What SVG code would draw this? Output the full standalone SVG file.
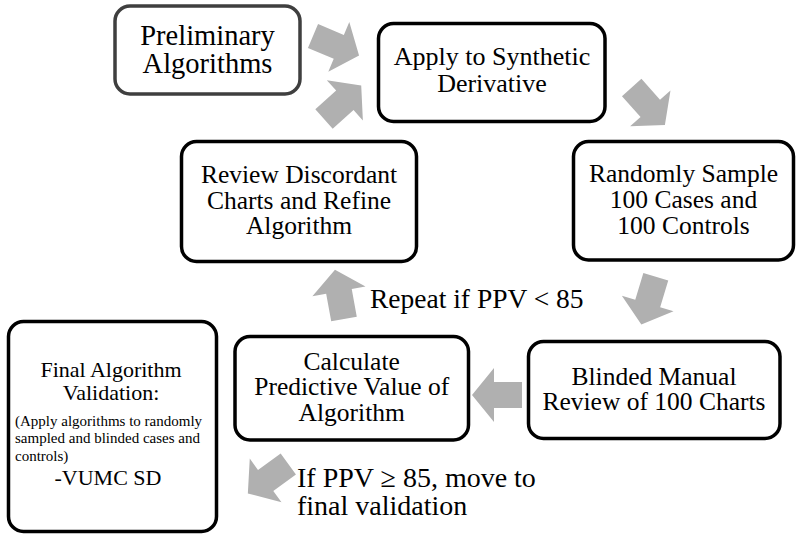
<svg xmlns="http://www.w3.org/2000/svg" xmlns:xlink="http://www.w3.org/1999/xlink" width="800" height="538" viewBox="0 0 800 538" font-family="Liberation Serif, Times New Roman, DejaVu Serif, serif">
<style>
  .box { fill: #ffffff; stroke: #000000; stroke-width: 3.5; }
  .box0 { fill: #ffffff; stroke: #3f3f3f; stroke-width: 3.5; }
  .t { text-anchor: middle; }
  .arr { fill: #b0b0b0; }
</style>
<defs>
  <polygon id="arrow" points="0,-13 28,-13 28,-27 50,0 28,27 28,13 0,13"/>
</defs>
<rect width="800" height="538" fill="#ffffff"/>

<g id="connectors" class="arr">
  <use xlink:href="#arrow" transform="translate(313,36) rotate(22.9)"/>
  <use xlink:href="#arrow" transform="translate(324,119) rotate(-41.9)"/>
  <use xlink:href="#arrow" transform="translate(631.7,87.5) rotate(48.4)"/>
  <use xlink:href="#arrow" transform="translate(655.8,276.7) rotate(106.8)"/>
  <use xlink:href="#arrow" transform="translate(522,395) rotate(180)"/>
  <use xlink:href="#arrow" transform="translate(288.3,464) rotate(144)"/>
  <use xlink:href="#arrow" transform="translate(344,319) rotate(-100.4)"/>
</g>

<g id="labels" fill="#000000">
  <text x="370" y="308" font-size="27.5">Repeat if PPV &lt; 85</text>
  <text x="297" y="487" font-size="28">If PPV ≥ 85, move to</text>
  <text x="297" y="515" font-size="28">final validation</text>
</g>

<g id="node-preliminary">
  <rect class="box0" x="115" y="6" width="185" height="88" rx="15"/>
  <text class="t" x="207.5" y="45" font-size="28.5">Preliminary</text>
  <text class="t" x="207.5" y="73" font-size="28.5">Algorithms</text>
</g>

<g id="node-apply">
  <rect class="box" x="378.5" y="23.5" width="226.5" height="98" rx="15"/>
  <text class="t" x="492" y="65" font-size="26">Apply to Synthetic</text>
  <text class="t" x="492" y="92" font-size="26">Derivative</text>
</g>

<g id="node-sample">
  <rect class="box" x="573.5" y="141.5" width="220" height="118.5" rx="15"/>
  <text class="t" x="683.5" y="182" font-size="25.5">Randomly Sample</text>
  <text class="t" x="683.5" y="208" font-size="25.5">100 Cases and</text>
  <text class="t" x="683.5" y="234" font-size="25.5">100 Controls</text>
</g>

<g id="node-review">
  <rect class="box" x="181.5" y="141.5" width="235" height="120" rx="15"/>
  <text class="t" x="299" y="183" font-size="25.5">Review Discordant</text>
  <text class="t" x="299" y="208.5" font-size="25.5">Charts and Refine</text>
  <text class="t" x="299" y="234" font-size="25.5">Algorithm</text>
</g>

<g id="node-final">
  <rect class="box" x="8.5" y="321.5" width="208" height="210" rx="15"/>
  <text class="t" x="111" y="377" font-size="22">Final Algorithm</text>
  <text class="t" x="111" y="400" font-size="22">Validation:</text>
  <text x="15" y="426" font-size="15">(Apply algorithms to randomly</text>
  <text x="15" y="443" font-size="15">sampled and blinded cases and</text>
  <text x="15" y="461" font-size="15">controls)</text>
  <text class="t" x="108" y="485" font-size="22">-VUMC SD</text>
</g>

<g id="node-calculate">
  <rect class="box" x="235" y="336.5" width="233.5" height="103.5" rx="15"/>
  <text class="t" x="351.7" y="369.5" font-size="25.5">Calculate</text>
  <text class="t" x="351.7" y="395" font-size="25.5">Predictive Value of</text>
  <text class="t" x="351.7" y="420.5" font-size="25.5">Algorithm</text>
</g>

<g id="node-blinded">
  <rect class="box" x="528.5" y="341.5" width="251.5" height="97" rx="15"/>
  <text class="t" x="654" y="385" font-size="25.5">Blinded Manual</text>
  <text class="t" x="654" y="410" font-size="25.5">Review of 100 Charts</text>
</g>
</svg>
